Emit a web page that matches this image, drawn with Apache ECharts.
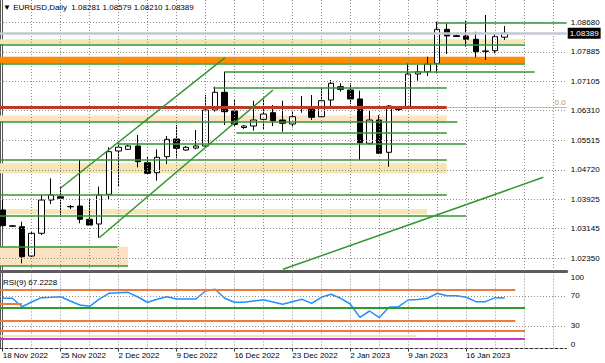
<!DOCTYPE html>
<html><head><meta charset="utf-8">
<script src="https://cdn.jsdelivr.net/npm/echarts@6/dist/echarts.min.js"></script>
<style>html,body{margin:0;padding:0;background:#fff}#c{width:605px;height:363px}</style>
</head><body><div id="c"></div>
<script>
// ---- data ----
const dates = ['18 Nov 2022','20 Nov 2022','21 Nov 2022','22 Nov 2022','23 Nov 2022','24 Nov 2022','25 Nov 2022',
  '27 Nov 2022','28 Nov 2022','29 Nov 2022','30 Nov 2022','1 Dec 2022','2 Dec 2022',
  '4 Dec 2022','5 Dec 2022','6 Dec 2022','7 Dec 2022','8 Dec 2022','9 Dec 2022',
  '11 Dec 2022','12 Dec 2022','13 Dec 2022','14 Dec 2022','15 Dec 2022','16 Dec 2022',
  '18 Dec 2022','19 Dec 2022','20 Dec 2022','21 Dec 2022','22 Dec 2022','23 Dec 2022',
  '26 Dec 2022','27 Dec 2022','28 Dec 2022','29 Dec 2022','30 Dec 2022',
  '2 Jan 2023','3 Jan 2023','4 Jan 2023','5 Jan 2023','6 Jan 2023',
  '8 Jan 2023','9 Jan 2023','10 Jan 2023','11 Jan 2023','12 Jan 2023','13 Jan 2023',
  '15 Jan 2023','16 Jan 2023','17 Jan 2023','18 Jan 2023','19 Jan 2023','20 Jan 2023'];
const opens  = [1.03645,1.0322,1.03197,1.02411,1.03020,1.03913,1.0400,1.0374,1.03752,1.03396,
  1.0327,1.04066,1.05228,1.05273,1.05362,1.04914,1.04646,1.05075,1.05550,1.05254,
  1.05308,1.05362,1.06327,1.06802,1.06301,1.05858,1.05898,1.06078,1.06255,1.06059,
  1.05952,1.06381,1.06373,1.06148,1.06596,1.06953,1.06864,1.06623,1.05434,1.06059,
  1.05193,1.06355,1.06400,1.07293,1.07355,1.07580,1.08492,1.0832,1.08313,1.08224,
  1.0790,1.07919,1.08281];
const highs  = [1.03913,1.0324,1.03331,1.03082,1.04047,1.04495,1.04262,1.03779,1.04986,1.03932,
  1.04270,1.05327,1.05477,1.05389,1.05657,1.05075,1.05273,1.0563,1.05925,1.0536,
  1.05791,1.06730,1.06953,1.07355,1.06615,1.05925,1.06577,1.06596,1.06462,1.06577,
  1.06309,1.06703,1.06730,1.06910,1.07132,1.07044,1.07044,1.06846,1.06327,1.06193,
  1.06462,1.06381,1.07580,1.07535,1.07757,1.08696,1.08653,1.08347,1.08723,1.08428,
  1.08876,1.08385,1.08579];
const lows   = [1.03198,1.0319,1.02215,1.02384,1.02974,1.03806,1.03512,1.03672,1.03288,1.03215,
  1.02902,1.03932,1.04270,1.05254,1.04791,1.04611,1.04431,1.04879,1.05032,1.0523,
  1.05273,1.05335,1.06282,1.05925,1.05880,1.05818,1.05774,1.05791,1.05898,1.05746,
  1.05863,1.06255,1.06059,1.06132,1.06373,1.06819,1.06489,1.04986,1.05389,1.05147,
  1.04807,1.06301,1.06381,1.07114,1.07240,1.07312,1.07830,1.08286,1.08026,1.07741,
  1.07669,1.07848,1.08210];
const closes = [1.03225,1.0321,1.02392,1.03020,1.03913,1.04047,1.0396,1.0373,1.03396,1.03242,
  1.04047,1.05209,1.05327,1.05362,1.04941,1.04629,1.05059,1.05541,1.05300,1.05327,
  1.05362,1.06327,1.06802,1.06282,1.05944,1.05898,1.06059,1.06220,1.06041,1.05971,
  1.06148,1.06408,1.06132,1.06577,1.07044,1.06883,1.06623,1.05451,1.06059,1.05166,
  1.06435,1.0634,1.07293,1.07355,1.07562,1.08492,1.08313,1.0830,1.08224,1.07891,
  1.0791,1.08294,1.08389];
const rsi = [66.7,66.7,55.5,61.8,67.5,68.1,68.8,63.1,57.8,56.0,
  65.7,73.3,74.0,74.6,68.4,61.4,65.3,68.8,65.7,65.7,
  65.7,76.4,78.6,66.7,61.4,61.4,63.1,64.8,61.8,58.7,
  62.2,65.3,60.0,68.0,72.0,66.7,59.1,41.4,49.8,40.9,
  54.7,55.5,64.4,65.1,66.7,73.3,70.1,70.1,68.0,62.2,
  62.2,67.5,67.2228];
const priceTicks = [1.02350,1.03145,1.03925,1.04720,1.05515,1.06310,1.07105,1.07885,1.08680];
const dateTickIdx = [0,6,12,18,24,30,36,42,48];
const gridIdx = [3,6,9,12,15,18,21,24,27,30,33,36,39,42,45,48,51,54,57];
const rsiTicks = [0,30,70,100];
const rsiGrid = [30,70];
// horizontal levels: [price, fromBar, toBar]
const X_MIN = -0.28, X_MAX = 58.42;
const P_MIN = 1.02009, P_MAX = 1.09278;
const greenLevels = [
  [1.08680,45.0,X_MAX],[1.08079,X_MIN,54.1],[1.07561,X_MIN,54.1],[1.07363,23.0,55.1],
  [1.06931,21.8,46.0],[1.06000,X_MIN,47.1],[1.05729,24.2,46.0],[1.05434,11.9,48.0],
  [1.04986,X_MIN,46.0],[1.04066,X_MIN,46.0],[1.03492,X_MIN,48.0],[1.02661,X_MIN,11.9],
  [1.02151,X_MIN,12.98]];
const redLevel = [1.06389,X_MIN,46.0];
const fiboExt = [1.06389,46.0,X_MAX];
const bidPrice = closes[closes.length-1];
const bidLevel = [bidPrice,X_MIN,X_MAX];
// zones: [top, bottom, fromBar, toBar]
const yellowZones = [[1.08224,1.08098,X_MIN,54.1],[1.04898,1.04629,X_MIN,46.0],[1.03664,1.03530,X_MIN,43.95]];
const peachZones = [[1.06180,1.06019,X_MIN,46.0],[1.02661,1.02143,X_MIN,12.98]];
const orangeZones = [[1.07757,1.07580,X_MIN,54.1]];
// trend lines: [bar1, price1, bar2, price2]
const trendLines = [[6.0,1.04235,23.03,1.0773],[10.0,1.02902,28.0,1.06864],[29.03,1.02054,56.0,1.04522]];
// RSI levels: [value, fromBar, toBar]
const rsiOrange = [[78.6,X_MIN,53.1],[36.5,X_MIN,53.1],[23.2,X_MIN,54.1],[59.1,X_MIN,2.0]];
const rsiGreen = [[54.7,X_MIN,54.1]];
const rsiMagenta = [[12.6,X_MIN,54.1]];
const rsiKhaki = [[16.6,X_MIN,42.9]];

// ---- chart ----
const FONT = 'Liberation Sans, Arial, sans-serif';
const GREEN = '#329632';
const seg = (l, style) => [{coord:[l[1], l[0]], lineStyle:style}, {coord:[l[2], l[0]]}];
const zone = (z, color) => [{coord:[z[2], z[0]], itemStyle:{color}}, {coord:[z[3], z[1]]}];
const chart = echarts.init(document.getElementById('c'), null, {renderer:'svg'});
const last = opens.length - 1;
const gridStyle = () => ({color:'#8c8c8c', width:1, type:[1,2]});

const option = {
  animation:false,
  backgroundColor:'#ffffff',
  textStyle:{fontFamily:FONT},
  title:[
    {text:'\u25BC EURUSD,Daily  ' + [opens[last],highs[last],lows[last],closes[last]].map(v=>v.toFixed(5)).join(' '),
     left:3, top:3, padding:0, textStyle:{fontSize:8, fontWeight:'normal', color:'#000', fontFamily:FONT}},
    {text:'RSI(9) ' + rsi[last].toFixed(4), left:3, top:278, padding:0,
     textStyle:{fontSize:8, fontWeight:'normal', color:'#000', fontFamily:FONT}}
  ],
  grid:[
    {left:0, top:0, width:566.7, height:271, outerBoundsMode:'none', containLabel:false},
    {left:0, top:273.2, width:566.7, height:75.3, outerBoundsMode:'none', containLabel:false}
  ],
  xAxis:[
    {gridIndex:0, type:'value', min:X_MIN, max:X_MAX, position:'bottom',
     axisLine:{show:true, onZero:false, lineStyle:{color:'#5c5c5c', width:3}},
     axisTick:{show:false}, axisLabel:{show:false}, splitLine:{show:false}},
    {gridIndex:1, type:'value', min:X_MIN, max:X_MAX, position:'bottom',
     axisLine:{show:true, onZero:false, lineStyle:{color:'#333', width:1, type:[3,2]}},
     axisTick:{show:true, customValues:dateTickIdx, length:3, lineStyle:{color:'#333'}},
     axisLabel:{show:true, customValues:dateTickIdx, formatter:v=>dates[Math.round(v)],
       align:'left', margin:3, fontSize:8, color:'#000', fontFamily:FONT},
     splitLine:{show:false}}
  ],
  yAxis:[
    {gridIndex:0, type:'value', position:'right', min:P_MIN, max:P_MAX,
     axisLine:{show:true, lineStyle:{color:'#555'}},
     axisTick:{show:false, customValues:priceTicks},
     axisLabel:{show:true, customValues:priceTicks, formatter:v=>v.toFixed(5), margin:4,
       fontSize:8, color:'#000', fontFamily:FONT},
     splitLine:{show:false}},
    {gridIndex:1, type:'value', position:'right', min:0, max:100,
     axisLine:{show:true, lineStyle:{color:'#555'}},
     axisTick:{show:false, customValues:rsiGrid},
     axisLabel:{show:true, customValues:rsiTicks.map(v=>Math.min(94.6, Math.max(5.6, v))),
       formatter:v=>String(rsiTicks.reduce((a,b)=>Math.abs(b-v)<Math.abs(a-v)?b:a)),
       margin:4, fontSize:8, color:'#000', fontFamily:FONT},
     splitLine:{show:false}},
    {gridIndex:0, type:'value', position:'left', min:0, max:1,
     axisLine:{show:true, lineStyle:{color:'#555'}}, axisTick:{show:false}, axisLabel:{show:false}, splitLine:{show:false}},
    {gridIndex:1, type:'value', position:'left', min:0, max:1,
     axisLine:{show:true, lineStyle:{color:'#555'}}, axisTick:{show:false}, axisLabel:{show:false}, splitLine:{show:false}}
  ],
  series:[
    {type:'line', name:'zones', xAxisIndex:0, yAxisIndex:0, data:[], z:1, silent:true,
     markArea:{silent:true, data:[
       ...yellowZones.map(z=>zone(z,'#f4e5b2')),
       ...peachZones.map(z=>zone(z,'#fde2c2')),
       ...orangeZones.map(z=>zone(z,'#ff8c00'))]}},
    {type:'line', name:'gridlines', xAxisIndex:0, yAxisIndex:0, data:[], z:2, silent:true, clip:false,
     markLine:{silent:true, symbol:['none','none'], animation:false, label:{show:false},
       data:[
         ...priceTicks.map(v=>seg([v, X_MIN, X_MAX], gridStyle())),
         ...gridIdx.map(i=>[{coord:[i, P_MIN], lineStyle:gridStyle()}, {coord:[i, P_MAX]}])
       ]}},
    {type:'candlestick', name:'EURUSD', xAxisIndex:0, yAxisIndex:0, z:3, barWidth:6,
     data:dates.map((d,i)=>[i, opens[i], closes[i], lows[i], highs[i]]),
     encode:{x:0, y:[1,2,3,4]},
     itemStyle:{color:'#ffffff', color0:'#000000', borderColor:'#000000', borderColor0:'#000000',
       borderColorDoji:'#000000', borderWidth:1}},
    {type:'line', name:'levels', xAxisIndex:0, yAxisIndex:0, data:[], z:5, silent:true, clip:false,
     markLine:{silent:true, symbol:['none','none'], animation:false, label:{show:false},
       data:[
         [{coord:[bidLevel[1],bidLevel[0]], lineStyle:{color:'#c5c7d1', width:2.5, type:'solid'},
           label:{show:true, position:'end', formatter:bidPrice.toFixed(5), distance:1,
             backgroundColor:'#000', color:'#fff', padding:[2,2,1,2], fontSize:8, fontFamily:FONT}},
          {coord:[bidLevel[2],bidLevel[0]]}],
         ...greenLevels.map(l=>seg(l,{color:GREEN, width:1.5, type:'solid'})),
         seg(redLevel,{color:'#bb3b2b', width:3, type:'solid'}),
         [{coord:[fiboExt[1],fiboExt[0]], lineStyle:{color:'#d9b28c', width:1, type:'solid'},
           label:{show:true, position:'insideEndTop', formatter:'0.0', color:'#c09060', fontSize:8, distance:1, fontFamily:FONT}},
          {coord:[fiboExt[2],fiboExt[0]]}],
         ...trendLines.map(t=>[{coord:[t[0],t[1]], lineStyle:{color:GREEN, width:1.5, type:'solid'}},{coord:[t[2],t[3]]}])
       ]}},
    {type:'line', name:'rsiGridlines', xAxisIndex:1, yAxisIndex:1, data:[], z:2, silent:true, clip:false,
     markLine:{silent:true, symbol:['none','none'], animation:false, label:{show:false},
       data:[
         ...rsiGrid.map(v=>seg([v, X_MIN, X_MAX], gridStyle())),
         ...gridIdx.map(i=>[{coord:[i, 0], lineStyle:gridStyle()}, {coord:[i, 100]}])
       ]}},
    {type:'line', name:'RSI(9)', xAxisIndex:1, yAxisIndex:1, z:3, symbol:'none',
     data:rsi.map((v,i)=>[i,v]), lineStyle:{color:'#1e90ff', width:1.5}},
    {type:'line', name:'rsiLevels', xAxisIndex:1, yAxisIndex:1, data:[], z:5, silent:true, clip:false,
     markLine:{silent:true, symbol:['none','none'], animation:false, label:{show:false},
       data:[
         ...rsiKhaki.map(l=>seg(l,{color:'#eee0a0', width:1.5, type:'solid'})),
         ...rsiOrange.map(l=>seg(l,{color:'#f07a3c', width:2, type:'solid'})),
         ...rsiGreen.map(l=>seg(l,{color:'#2e9a2e', width:2, type:'solid'})),
         ...rsiMagenta.map(l=>seg(l,{color:'#c03cc8', width:2, type:'solid'}))
       ]}}
  ]
};
chart.setOption(option);
</script></body></html>
